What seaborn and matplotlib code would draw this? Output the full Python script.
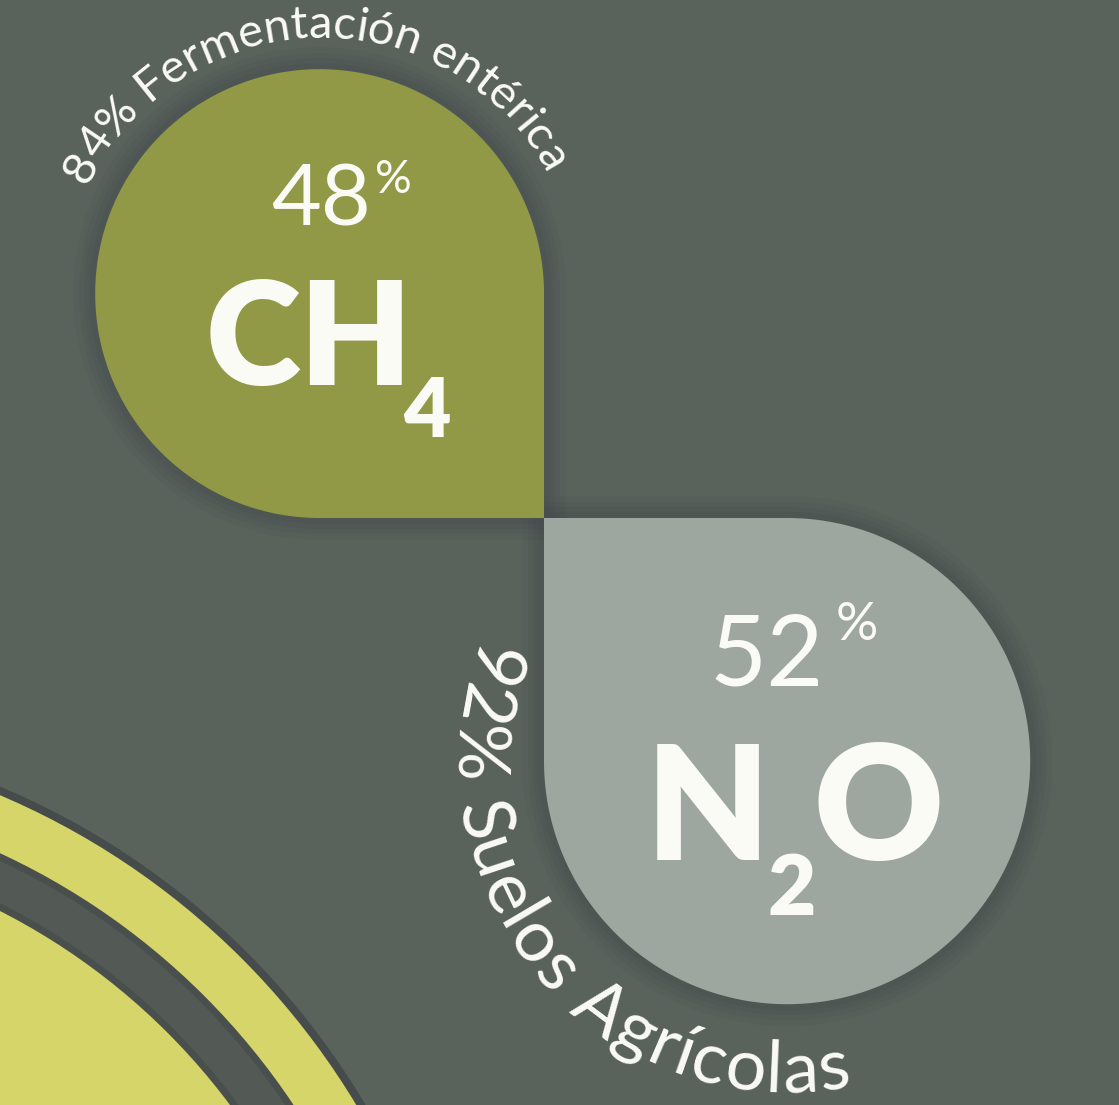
import numpy as np
import pandas as pd
import matplotlib
matplotlib.use("Agg")
import matplotlib.pyplot as plt
import seaborn as sns
from matplotlib.patches import Polygon, Circle
from matplotlib.font_manager import FontProperties

# ---------------- data ----------------
gases = ["CH4", "N2O"]
gas_share = [48, 52]                       # % of agricultural emissions
main_source_pct = [84, 92]                 # % of each gas from its main source
main_source_name = ["Fermentación entérica", "Suelos Agrícolas"]
gas_colors = ["#929946", "#9ea79f"]

df = pd.DataFrame({"gas": gases, "share": gas_share,
                   "src_pct": main_source_pct, "src": main_source_name,
                   "color": gas_colors})

# ---------------- style ----------------
sns.set_theme(style="white")
plt.rcParams["font.family"] = ["Lato", "DejaVu Sans"]

W, H = 1119, 1105
BG = "#5a625c"
DARK = "#3b3f47"
YELLOW = "#d6d56a"
WHITE = "#fbfbf6"

fig = plt.figure(figsize=(W / 100, H / 100), dpi=100)
fig.patch.set_facecolor(BG)
ax = fig.add_axes([0, 0, 1, 1])
ax.set_xlim(0, W)
ax.set_ylim(H, 0)
ax.set_aspect("equal")
ax.axis("off")
renderer = fig.canvas.get_renderer()

# ---------------- decorative yellow arcs (bottom-left) ----------------
YC = (-300, 1500)
for rad, col in [(774, "#464c4b"), (766, YELLOW), (713, "#494f4d"),
                 (706, "#535a55"), (668, "#494f4d"), (661, YELLOW)]:
    ax.add_patch(Circle(YC, rad, color=col, lw=0, zorder=1))

# ---------------- teardrops ----------------
CORNER = (544, 518)
K = 4.675  # px of radius per % share


def teardrop(cx, cy, r, missing):
    if missing == "br":
        t = np.radians(np.linspace(90, 360, 500))
        corner = (cx + r, cy + r)
    else:
        t = np.radians(np.linspace(270, 540, 500))
        corner = (cx - r, cy - r)
    pts = np.column_stack([cx + r * np.cos(t), cy + r * np.sin(t)])
    return np.vstack([pts, corner])


centers = []
for i, row in df.iterrows():
    r = K * row["share"]
    if i == 0:
        cx, cy, miss = CORNER[0] - r, CORNER[1] - r, "br"
    else:
        cx, cy, miss = CORNER[0] + r, CORNER[1] + r, "tl"
    centers.append((cx, cy, r))
    pts = teardrop(cx, cy, r, miss)
    # soft dark halo
    for lw, a in [(44, 0.08), (32, 0.09), (22, 0.10), (12, 0.11)]:
        ax.add_patch(Polygon(pts, closed=True, fill=False, edgecolor=DARK,
                             lw=lw * 0.72, alpha=a, joinstyle="round", zorder=2))
    ax.add_patch(Polygon(pts, closed=True, facecolor=row["color"],
                         edgecolor="none", zorder=3))


# ---------------- curved text ----------------
def char_centers(text, fp):
    bar = renderer.get_text_width_height_descent("|", fp, ismath=False)[0]

    def adv(s):
        if s == "":
            return 0.0
        return renderer.get_text_width_height_descent(s + "|", fp, ismath=False)[0] - bar

    return np.array([adv(text[:i]) + adv(text[i]) / 2 for i in range(len(text))])


def curved_text(text, cx, cy, r_base, th0, th1, size, outward=True):
    fp = FontProperties(family=["Lato", "DejaVu Sans"], size=size)
    s = char_centers(text, fp)
    frac = (s - s[0]) / (s[-1] - s[0])
    th = th0 + frac * (th1 - th0)
    for ch, t in zip(text, th):
        if ch == " ":
            continue
        tr = np.radians(t)
        x = cx + r_base * np.cos(tr)
        y = cy - r_base * np.sin(tr)
        rot = t - 90 if outward else t + 90
        ax.text(x, y, ch, fontproperties=fp, color=WHITE, ha="center",
                va="baseline", rotation=rot, rotation_mode="anchor", zorder=6)


(c1x, c1y, r1), (c2x, c2y, r2) = centers
curved_text(f"{df.src_pct[0]}% {df.src[0]}", c1x, c1y, 256, 152.0, 30.5, 34, outward=True)
curved_text(f"{df.src_pct[1]}% {df.src[1]}", c2x, c2y, 332, 162.1, 278.6, 52, outward=False)

# ---------------- big labels ----------------
# CH4
ax.text(321, 225, f"{df.share[0]}", fontsize=62, color=WHITE, ha="center", va="baseline", zorder=6)
ax.text(375, 193, "%", fontsize=33, color=WHITE, ha="left", va="baseline", zorder=6)
ax.text(309, 385, "CH", fontsize=104, fontweight="heavy", color=WHITE, ha="center", va="baseline", zorder=6)
ax.text(427, 437, "4", fontsize=59, fontweight="heavy", color=WHITE, ha="center", va="baseline", zorder=6)
# N2O
ax.text(767, 685, f"{df.share[1]}", fontsize=71, color=WHITE, ha="center", va="baseline", zorder=6)
ax.text(836, 640, "%", fontsize=38, color=WHITE, ha="left", va="baseline", zorder=6)
ax.text(708, 860, "N", fontsize=115, fontweight="heavy", color=WHITE, ha="center", va="baseline", zorder=6)
ax.text(792, 915, "2", fontsize=60, fontweight="heavy", color=WHITE, ha="center", va="baseline", zorder=6)
ax.text(879, 860, "O", fontsize=115, fontweight="heavy", color=WHITE, ha="center", va="baseline", zorder=6)

fig.savefig("out.png", dpi=100, facecolor=BG)
